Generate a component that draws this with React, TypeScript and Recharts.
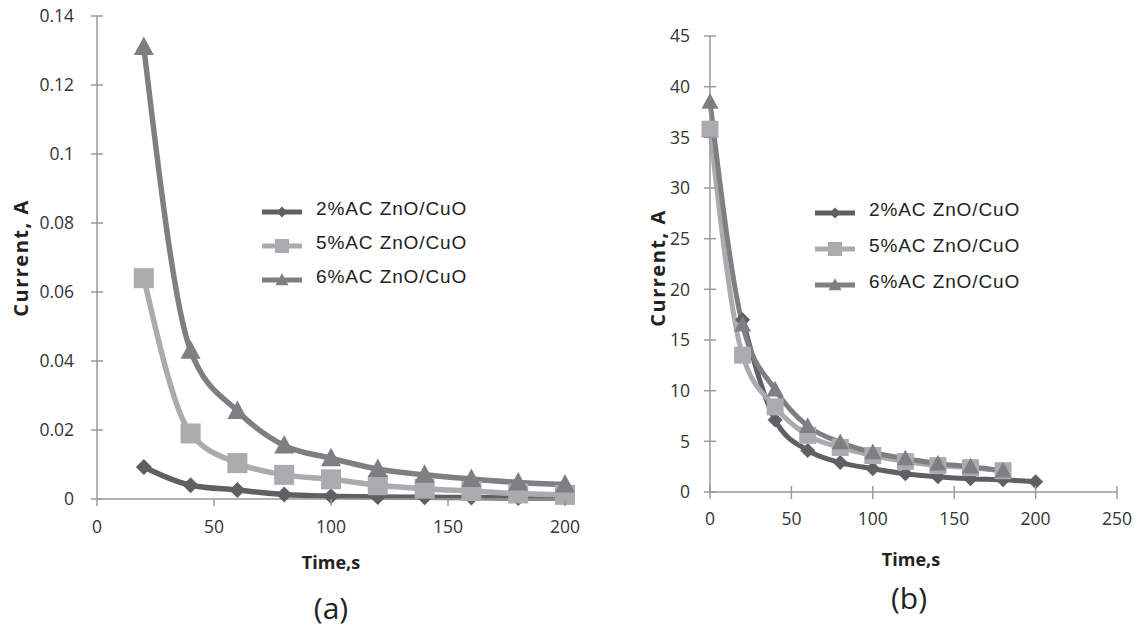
import React from 'react';
import { LineChart, Line, XAxis, YAxis, Legend } from 'recharts';

// colours of the three series and of the axes
const C2 = '#5f6063';
const C5 = '#a9abae';
const C6 = '#7e7f82';
const AXIS = '#9a9a9a';

const seriesNames = ['2%AC ZnO/CuO', '5%AC ZnO/CuO', '6%AC ZnO/CuO'];
const seriesColors = [C2, C5, C6];
const seriesShapes = ['diamond', 'square', 'triangle'];

// (a)
const leftTime = [20, 40, 60, 80, 100, 120, 140, 160, 180, 200];
const left2 = [0.0093, 0.004, 0.0026, 0.0013, 0.0008, 0.0006, 0.0005, 0.0004, 0.0003, 0.0003];
const left5 = [0.064, 0.019, 0.0104, 0.007, 0.0057, 0.004, 0.003, 0.0023, 0.0016, 0.0012];
const left6 = [0.131, 0.043, 0.0255, 0.0155, 0.0118, 0.0087, 0.007, 0.0058, 0.0048, 0.0042];
const leftXTicks = [0, 50, 100, 150, 200];
const leftYTicks = [0, 0.02, 0.04, 0.06, 0.08, 0.1, 0.12, 0.14];

// (b)
const rightTime2 = [20, 40, 60, 80, 100, 120, 140, 160, 180, 200];
const rightTime56 = [0, 20, 40, 60, 80, 100, 120, 140, 160, 180];
const right2 = [17, 7.1, 4.1, 2.9, 2.3, 1.8, 1.5, 1.3, 1.2, 1.0];
const right5 = [35.8, 13.5, 8.4, 5.6, 4.4, 3.6, 3.0, 2.6, 2.4, 2.1];
const right6 = [38.5, 16.5, 10.1, 6.5, 4.9, 3.9, 3.3, 2.8, 2.5, 2.1];
const rightXTicks = [0, 50, 100, 150, 200, 250];
const rightYTicks = [0, 5, 10, 15, 20, 25, 30, 35, 40, 45];

const toRows = (xs: number[], ys: number[]) => xs.map((t, i) => ({ t, v: ys[i] }));

const Marker = ({ shape, cx, cy, size, fill }: any) => {
  const s = size / 2;
  if (shape === 'diamond') {
    return <path d={`M${cx},${cy - s}L${cx + s},${cy}L${cx},${cy + s}L${cx - s},${cy}Z`} fill={fill} />;
  }
  if (shape === 'square') {
    return <rect x={cx - s} y={cy - s} width={size} height={size} fill={fill} />;
  }
  return <path d={`M${cx},${cy - s * 1.05}L${cx + s},${cy + s * 0.8}L${cx - s},${cy + s * 0.8}Z`} fill={fill} />;
};

const dotFor = (shape: string, size: number, fill: string) => (p: any) => {
  if (p.cx == null || p.cy == null) return <g key={p.index} />;
  return <Marker key={p.index} shape={shape} cx={p.cx} cy={p.cy} size={size} fill={fill} />;
};

const TICK_FONT = '"Open Sans", sans-serif';

const YTick = ({ x, y, payload, tickMargin }: any) => {
  const ax = x + 5 + tickMargin;
  return (
    <g>
      <line x1={ax - 6} x2={ax + 6} y1={y} y2={y} stroke={AXIS} strokeWidth={1.5} />
      <text x={x} y={y} dy="0.36em" textAnchor="end" fontSize={17.5} fontFamily={TICK_FONT} fill="#333">
        {payload.value}
      </text>
    </g>
  );
};

const XTick = ({ x, y, payload, tickMargin, cross }: any) => {
  const ay = y - 5 - tickMargin;
  return (
    <g>
      <line x1={x} x2={x} y1={cross ? ay - 6 : ay} y2={ay + 7} stroke={AXIS} strokeWidth={1.5} />
      <text x={x} y={y} dy="0.36em" textAnchor="middle" fontSize={17.5} fontFamily={TICK_FONT} fill="#333">
        {payload.value}
      </text>
    </g>
  );
};

const LegendBox = ({ gap, markerSizes }: any) => (
  <svg width={280} height={100} style={{ overflow: 'visible' }}>
    {seriesNames.map((n, i) => {
      const y = 12 + i * gap;
      return (
        <g key={n}>
          <line x1={0} x2={40} y1={y} y2={y} stroke={seriesColors[i]} strokeWidth={5} />
          <Marker shape={seriesShapes[i]} cx={20} cy={y} size={markerSizes[i]} fill={seriesColors[i]} />
          <text x={54} y={y - 4} dy="0.36em" fontSize={19} letterSpacing={0.9}
            fontFamily='"Liberation Sans", Arial, sans-serif' fill="#222">
            {n}
          </text>
        </g>
      );
    })}
  </svg>
);

const leftSeries = [left2, left5, left6];
const leftSizes = [16, 20, 20];
const rightSeries = [right2, right5, right6];
const rightTimes = [rightTime2, rightTime56, rightTime56];
const rightSizes = [15, 17, 17];

export default function App() {
  return (
    <div style={{ position: 'absolute', left: 0, top: 0, width: 1135, height: 630, background: '#fff' }}>
      <div style={{ position: 'absolute', left: 0, top: 0 }}>
        <LineChart width={600} height={560} margin={{ top: 16, right: 35, left: 0, bottom: 31 }}>
          <XAxis dataKey="t" type="number" domain={[0, 200]} ticks={leftXTicks} height={30}
            axisLine={{ stroke: AXIS, strokeWidth: 1.5 }} tickLine={false} tickSize={5} tickMargin={23}
            tick={<XTick tickMargin={23} cross={false} />} allowDuplicatedCategory={false} />
          <YAxis type="number" domain={[0, 0.14]} ticks={leftYTicks} width={97}
            axisLine={{ stroke: AXIS, strokeWidth: 1.5 }} tickLine={false} tickSize={5} tickMargin={18}
            tick={<YTick tickMargin={18} />} />
          {leftSeries.map((ys, i) => (
            <Line key={seriesNames[i]} name={seriesNames[i]} data={toRows(leftTime, ys)} dataKey="v"
              type="monotone" stroke={seriesColors[i]} strokeWidth={5.5}
              dot={dotFor(seriesShapes[i], leftSizes[i], seriesColors[i])}
              activeDot={false} isAnimationActive={false} />
          ))}
          <Legend layout="vertical" align="center" verticalAlign="middle"
            content={<LegendBox gap={34} markerSizes={[11, 14, 13]} />}
            wrapperStyle={{ left: 262, top: 200, width: 280 }} />
        </LineChart>
      </div>
      <div style={{ position: 'absolute', left: 600, top: 0 }}>
        <LineChart width={535} height={560} margin={{ top: 36, right: 18, left: 0, bottom: 38 }}>
          <XAxis dataKey="t" type="number" domain={[0, 250]} ticks={rightXTicks} height={30}
            axisLine={{ stroke: AXIS, strokeWidth: 1.5 }} tickLine={false} tickSize={5} tickMargin={22}
            tick={<XTick tickMargin={22} cross={true} />} allowDuplicatedCategory={false} />
          <YAxis type="number" domain={[0, 45]} ticks={rightYTicks} width={110}
            axisLine={{ stroke: AXIS, strokeWidth: 1.5 }} tickLine={false} tickSize={5} tickMargin={15}
            tick={<YTick tickMargin={15} />} />
          {rightSeries.map((ys, i) => (
            <Line key={seriesNames[i]} name={seriesNames[i]} data={toRows(rightTimes[i], ys)} dataKey="v"
              type="monotone" stroke={seriesColors[i]} strokeWidth={5}
              dot={dotFor(seriesShapes[i], rightSizes[i], seriesColors[i])}
              activeDot={false} isAnimationActive={false} />
          ))}
          <Legend layout="vertical" align="center" verticalAlign="middle"
            content={<LegendBox gap={36} markerSizes={[11, 14, 13]} />}
            wrapperStyle={{ left: 215, top: 201, width: 280 }} />
        </LineChart>
      </div>
      <svg width={1135} height={630} style={{ position: 'absolute', left: 0, top: 0, pointerEvents: 'none' }}>
        <g fontFamily='"Open Sans", sans-serif' fontWeight={700} fontSize={20} letterSpacing={1.5} fill="#222">
          <text transform="translate(28,258) rotate(-90)" textAnchor="middle">Current, A</text>
          <text transform="translate(665,268) rotate(-90)" textAnchor="middle">Current, A</text>
        </g>
        <g fontFamily='"Open Sans", sans-serif' fontWeight={700} fontSize={18} fill="#222">
          <text x={331} y={569} textAnchor="middle">Time,s</text>
          <text x={911} y={566} textAnchor="middle">Time,s</text>
        </g>
        <g fontFamily='"Open Sans", sans-serif' fontSize={30} fill="#222">
          <text x={331} y={619} textAnchor="middle">(a)</text>
          <text x={909} y={609} textAnchor="middle">(b)</text>
        </g>
      </svg>
    </div>
  );
}
